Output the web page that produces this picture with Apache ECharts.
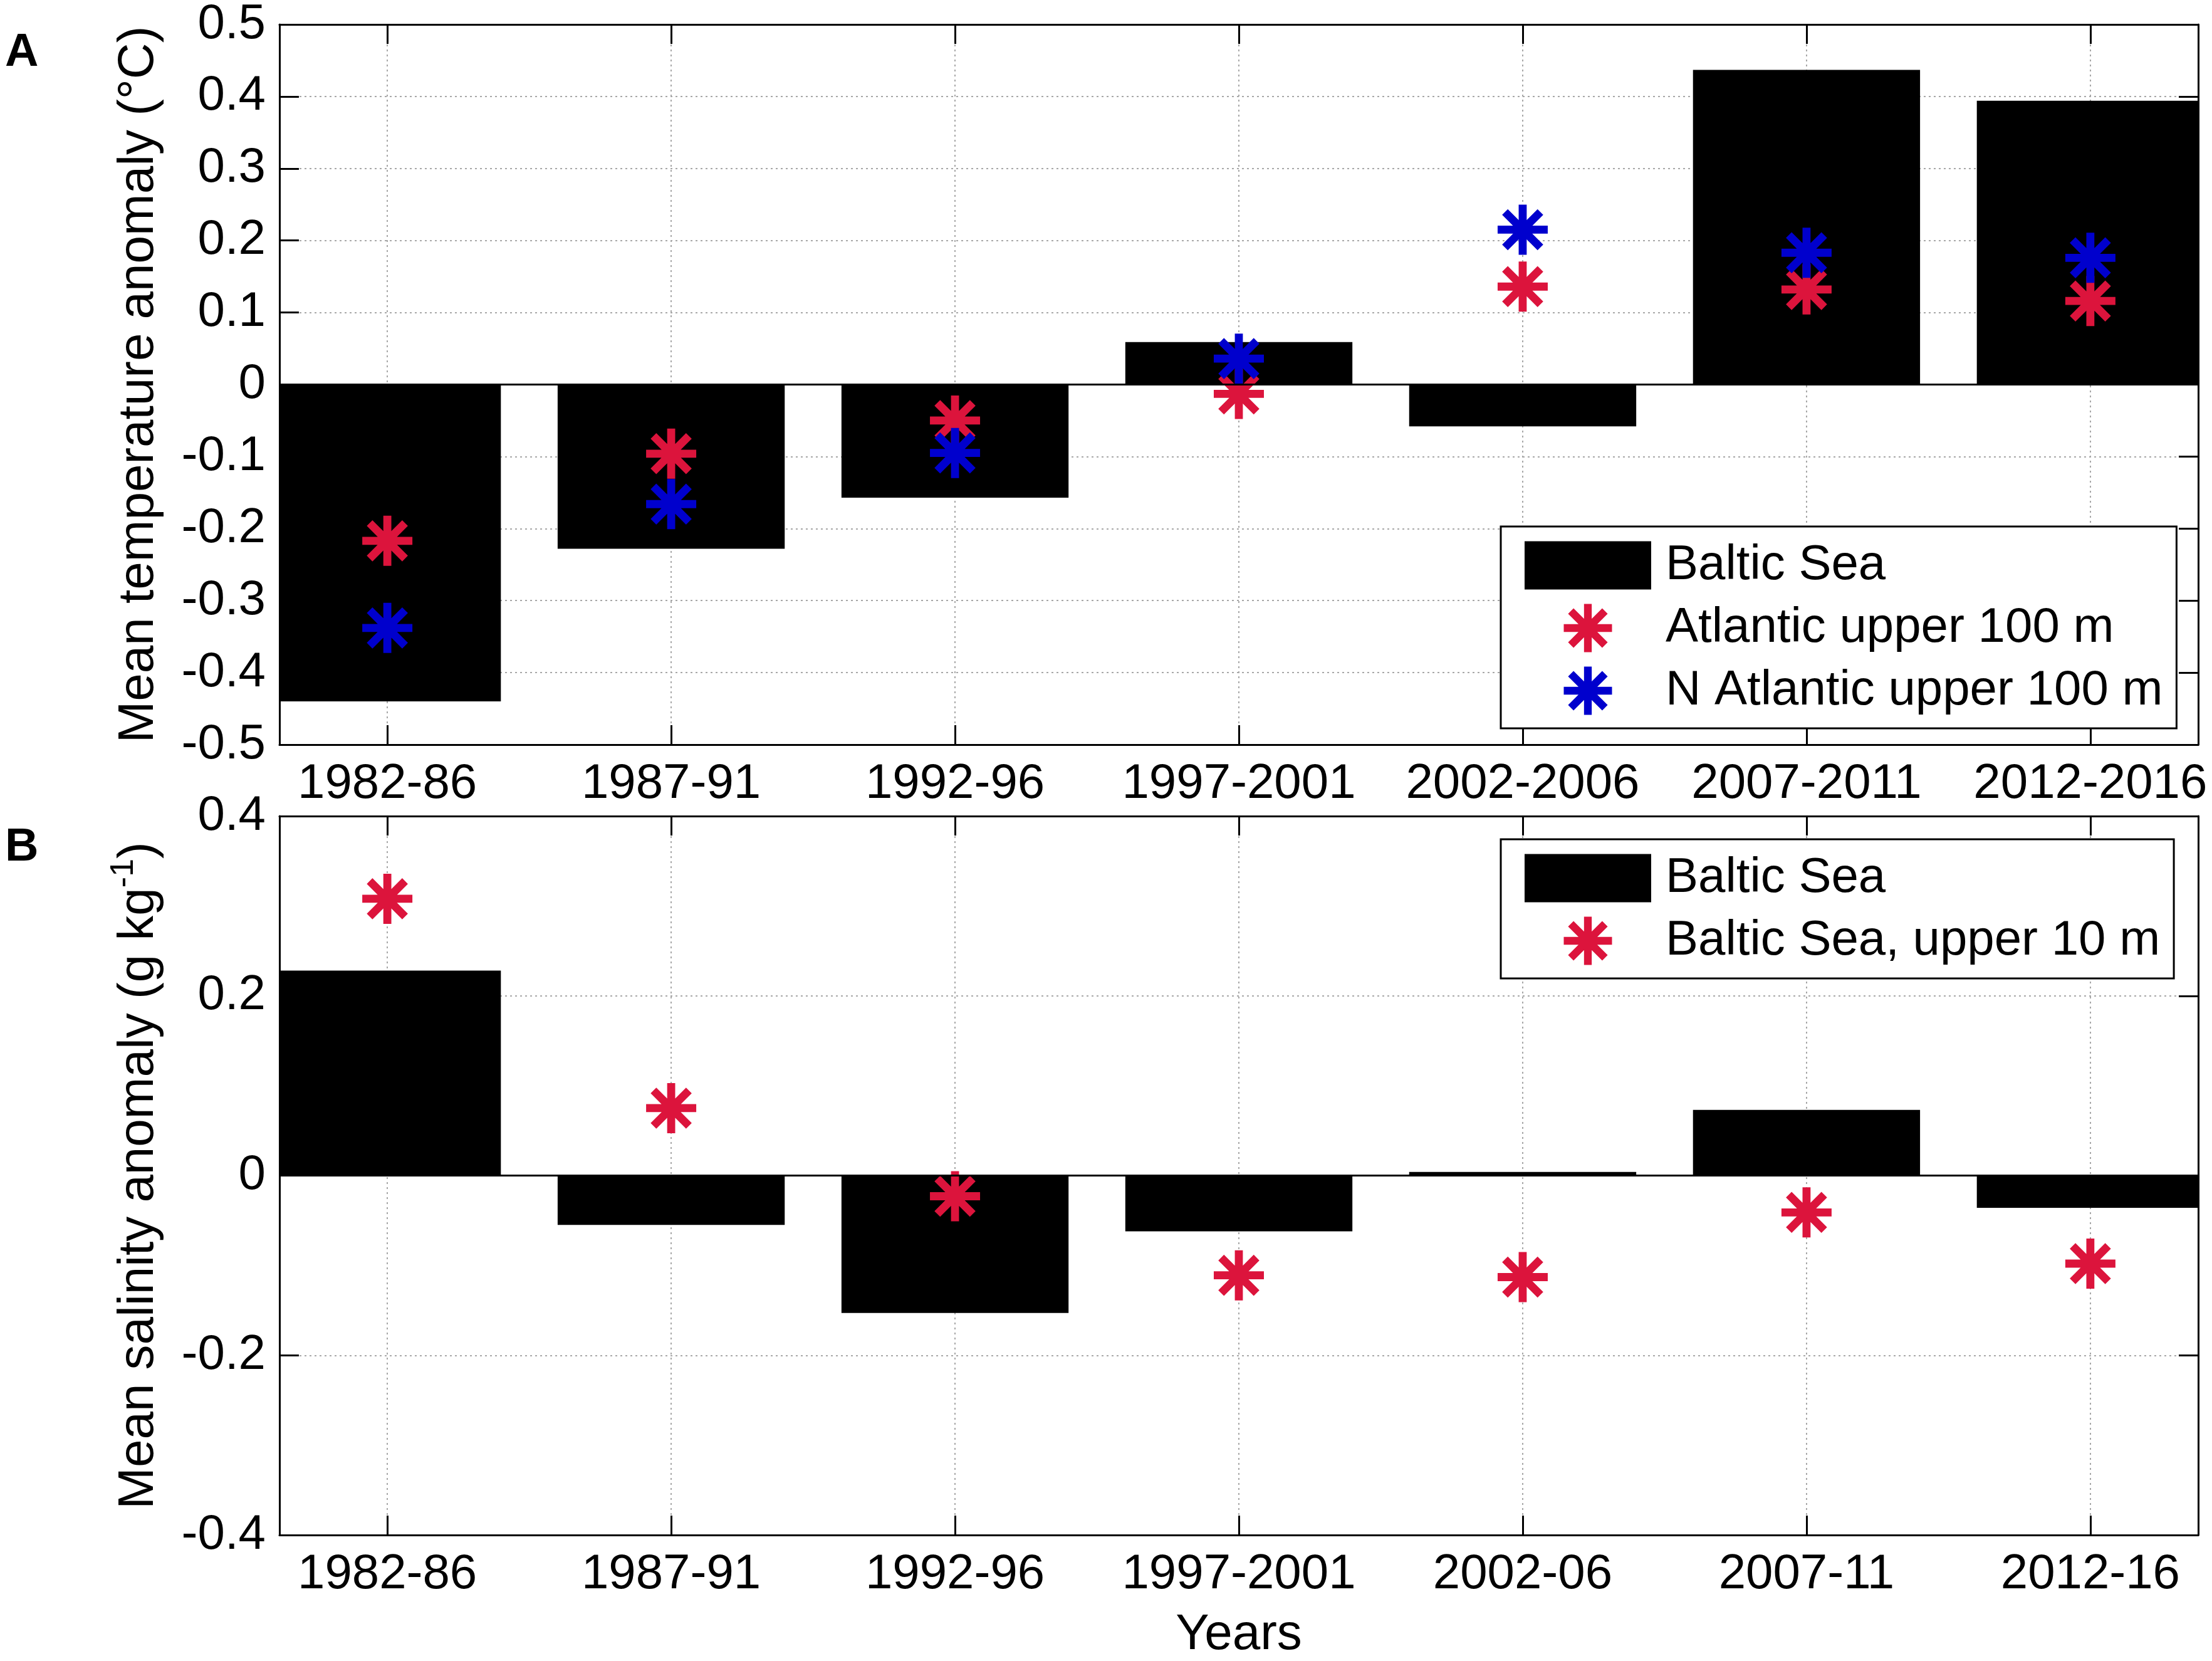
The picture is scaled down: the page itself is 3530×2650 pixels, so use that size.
<!DOCTYPE html>
<html>
<head>
<meta charset="utf-8">
<script src="https://cdn.jsdelivr.net/npm/echarts@6/dist/echarts.min.js"></script>
<style>html,body{margin:0;padding:0;background:#fff}#c{width:3530px;height:2650px}</style>
</head>
<body>
<div id="c"></div>
<script>
// ---- data ----
const positions = [1, 2, 3, 4, 5, 6, 7];
const categoriesA = ['1982-86', '1987-91', '1992-96', '1997-2001', '2002-2006', '2007-2011', '2012-2016'];
const categoriesB = ['1982-86', '1987-91', '1992-96', '1997-2001', '2002-06', '2007-11', '2012-16'];
const tempBaltic = [-0.44, -0.228, -0.157, 0.059, -0.058, 0.437, 0.394];
const tempAtlantic = [-0.217, -0.096, -0.050, -0.013, 0.136, 0.132, 0.116];
const tempNAtlantic = [-0.338, -0.166, -0.095, 0.036, 0.215, 0.183, 0.176];
const salBaltic = [0.228, -0.055, -0.153, -0.062, 0.004, 0.073, -0.036];
const salUpper10 = [0.308, 0.075, -0.023, -0.111, -0.113, -0.041, -0.098];

// ---- style ----
const FONT = 'Liberation Sans, Arial, Helvetica, sans-serif';
const FS = 78;
const NFS = 80;
const RED = '#dc143c';
const BLUE = '#0000cd';
const BAR_HALF = 0.4;
const STAR = 'path://M42 0L58 0L58 100L42 100Z M0 42L100 42L100 58L0 58Z M20.3 9L91 79.7L79.7 91L9 20.3Z M79.7 9L91 20.3L20.3 91L9 79.7Z';

const GRID_L = 446, GRID_W = 3062, GRID_H = 1154;
const GRID_A_TOP = 34, GRID_B_TOP = 1302;

function pairs(vals) { return positions.map((p, i) => [p, vals[i]]); }

function renderBar(params, api) {
  const x = api.value(0), v = api.value(1);
  const a = api.coord([x - BAR_HALF, 0]);
  const b = api.coord([x + BAR_HALF, v]);
  const cs = params.coordSys;
  const shape = echarts.graphic.clipRectByRect(
    {x: a[0], y: Math.min(a[1], b[1]), width: b[0] - a[0], height: Math.abs(b[1] - a[1])},
    {x: cs.x, y: cs.y, width: cs.width, height: cs.height});
  return shape ? {type: 'rect', shape: shape, style: {fill: '#000'}} : null;
}

const axisLineStyle = {show: true, onZero: false, lineStyle: {color: '#000', width: 3}};
const tickStyle = {show: true, inside: true, length: 31, lineStyle: {color: '#000', width: 3}};
const gridLine = {show: true, lineStyle: {color: '#a8a8a8', width: 2, type: [3, 5]}};

function xBottom(gridIndex, cats, extra) {
  return Object.assign({
    type: 'value', gridIndex: gridIndex, position: 'bottom', min: 0.62, max: 7.38,
    axisLine: axisLineStyle,
    axisTick: Object.assign({customValues: positions}, tickStyle),
    splitLine: gridLine,
    axisLabel: {customValues: positions, formatter: v => cats[Math.round(v) - 1] || '',
      fontSize: FS, fontFamily: FONT, color: '#000', margin: 24}
  }, extra || {});
}
function xTop(gridIndex) {
  return {
    type: 'value', gridIndex: gridIndex, position: 'top', min: 0.62, max: 7.38,
    axisLine: axisLineStyle,
    axisTick: Object.assign({customValues: positions}, tickStyle),
    splitLine: {show: false}, axisLabel: {show: false}
  };
}
function yLeft(gridIndex, min, max, interval, extra) {
  return Object.assign({
    type: 'value', gridIndex: gridIndex, position: 'left', min: min, max: max, interval: interval,
    axisLine: axisLineStyle, axisTick: tickStyle, splitLine: gridLine,
    axisLabel: {fontSize: FS, fontFamily: FONT, color: '#000', margin: 22}
  }, extra);
}
function yRight(gridIndex, min, max, interval) {
  return {
    type: 'value', gridIndex: gridIndex, position: 'right', min: min, max: max, interval: interval,
    axisLine: axisLineStyle, axisTick: tickStyle, splitLine: {show: false}, axisLabel: {show: false}
  };
}

const legendBase = {
  orient: 'vertical', left: 2395, itemWidth: 202, itemHeight: 77, itemGap: 20,
  padding: [22, 22, 20, 38], borderColor: '#000', borderWidth: 3, backgroundColor: '#fff',
  selectedMode: false,
  textStyle: {fontSize: FS, fontFamily: FONT, color: '#000', lineHeight: 80, padding: [0, 0, 0, 18]}
};

const zeroLine = {
  symbol: 'none', silent: true, label: {show: false},
  lineStyle: {color: '#000', width: 3, type: 'solid'},
  data: [{yAxis: 0}]
};

const option = {
  animation: false,
  backgroundColor: '#fff',
  grid: [
    {left: GRID_L, top: GRID_A_TOP, width: GRID_W, height: GRID_H},
    {left: GRID_L, top: GRID_B_TOP, width: GRID_W, height: GRID_H}
  ],
  xAxis: [
    xBottom(0, categoriesA),
    xTop(0),
    xBottom(1, categoriesB, {name: 'Years', nameLocation: 'middle', nameGap: 120,
      nameTextStyle: {fontSize: NFS, fontFamily: FONT, color: '#000'}}),
    xTop(1)
  ],
  yAxis: [
    yLeft(0, -0.5, 0.5, 0.1, {name: 'Mean temperature anomaly (\u00B0C)', nameLocation: 'middle',
      nameRotate: 90, nameGap: 184,
      nameTextStyle: {fontSize: NFS, fontFamily: FONT, color: '#000', lineHeight: 80}}),
    yRight(0, -0.5, 0.5, 0.1),
    yLeft(1, -0.4, 0.4, 0.2, {name: '{a|Mean salinity anomaly (g kg}{s|-1}{a|)}', nameLocation: 'middle',
      nameRotate: 90, nameGap: 174,
      nameTextStyle: {fontSize: NFS, fontFamily: FONT, color: '#000',
        rich: {a: {fontSize: NFS, fontFamily: FONT, color: '#000', lineHeight: 100},
               s: {fontSize: 52, fontFamily: FONT, color: '#000', lineHeight: 50, verticalAlign: 'top'}}}}),
    yRight(1, -0.4, 0.4, 0.2)
  ],
  legend: [
    Object.assign({}, legendBase, {top: 840,
      data: [{name: 'Baltic Sea', icon: 'rect'}, 'Atlantic upper 100 m', 'N Atlantic upper 100 m']}),
    Object.assign({}, legendBase, {top: 1339,
      data: [{name: 'Baltic Sea', icon: 'rect'}, 'Baltic Sea, upper 10 m']})
  ],
  graphic: [
    {type: 'text', left: 8, top: 48, style: {text: 'A', fontSize: 74, fontWeight: 'bold', fontFamily: FONT, fill: '#000'}},
    {type: 'text', left: 8, top: 1316, style: {text: 'B', fontSize: 74, fontWeight: 'bold', fontFamily: FONT, fill: '#000'}}
  ],
  series: [
    {name: 'Baltic Sea', type: 'custom', xAxisIndex: 0, yAxisIndex: 0, renderItem: renderBar,
      itemStyle: {color: '#000'}, encode: {x: 0, y: 1}, data: pairs(tempBaltic), markLine: zeroLine},
    {name: 'Atlantic upper 100 m', type: 'scatter', xAxisIndex: 0, yAxisIndex: 0,
      symbol: STAR, symbolSize: 80, itemStyle: {color: RED, opacity: 1}, data: pairs(tempAtlantic)},
    {name: 'N Atlantic upper 100 m', type: 'scatter', xAxisIndex: 0, yAxisIndex: 0,
      symbol: STAR, symbolSize: 80, itemStyle: {color: BLUE, opacity: 1}, data: pairs(tempNAtlantic)},
    {name: 'Baltic Sea', type: 'custom', xAxisIndex: 2, yAxisIndex: 2, renderItem: renderBar,
      itemStyle: {color: '#000'}, encode: {x: 0, y: 1}, data: pairs(salBaltic), markLine: zeroLine},
    {name: 'Baltic Sea, upper 10 m', type: 'scatter', xAxisIndex: 2, yAxisIndex: 2,
      symbol: STAR, symbolSize: 80, itemStyle: {color: RED, opacity: 1}, data: pairs(salUpper10)}
  ]
};

const chart = echarts.init(document.getElementById('c'), null, {renderer: 'canvas'});
chart.setOption(option);
</script>
</body>
</html>
